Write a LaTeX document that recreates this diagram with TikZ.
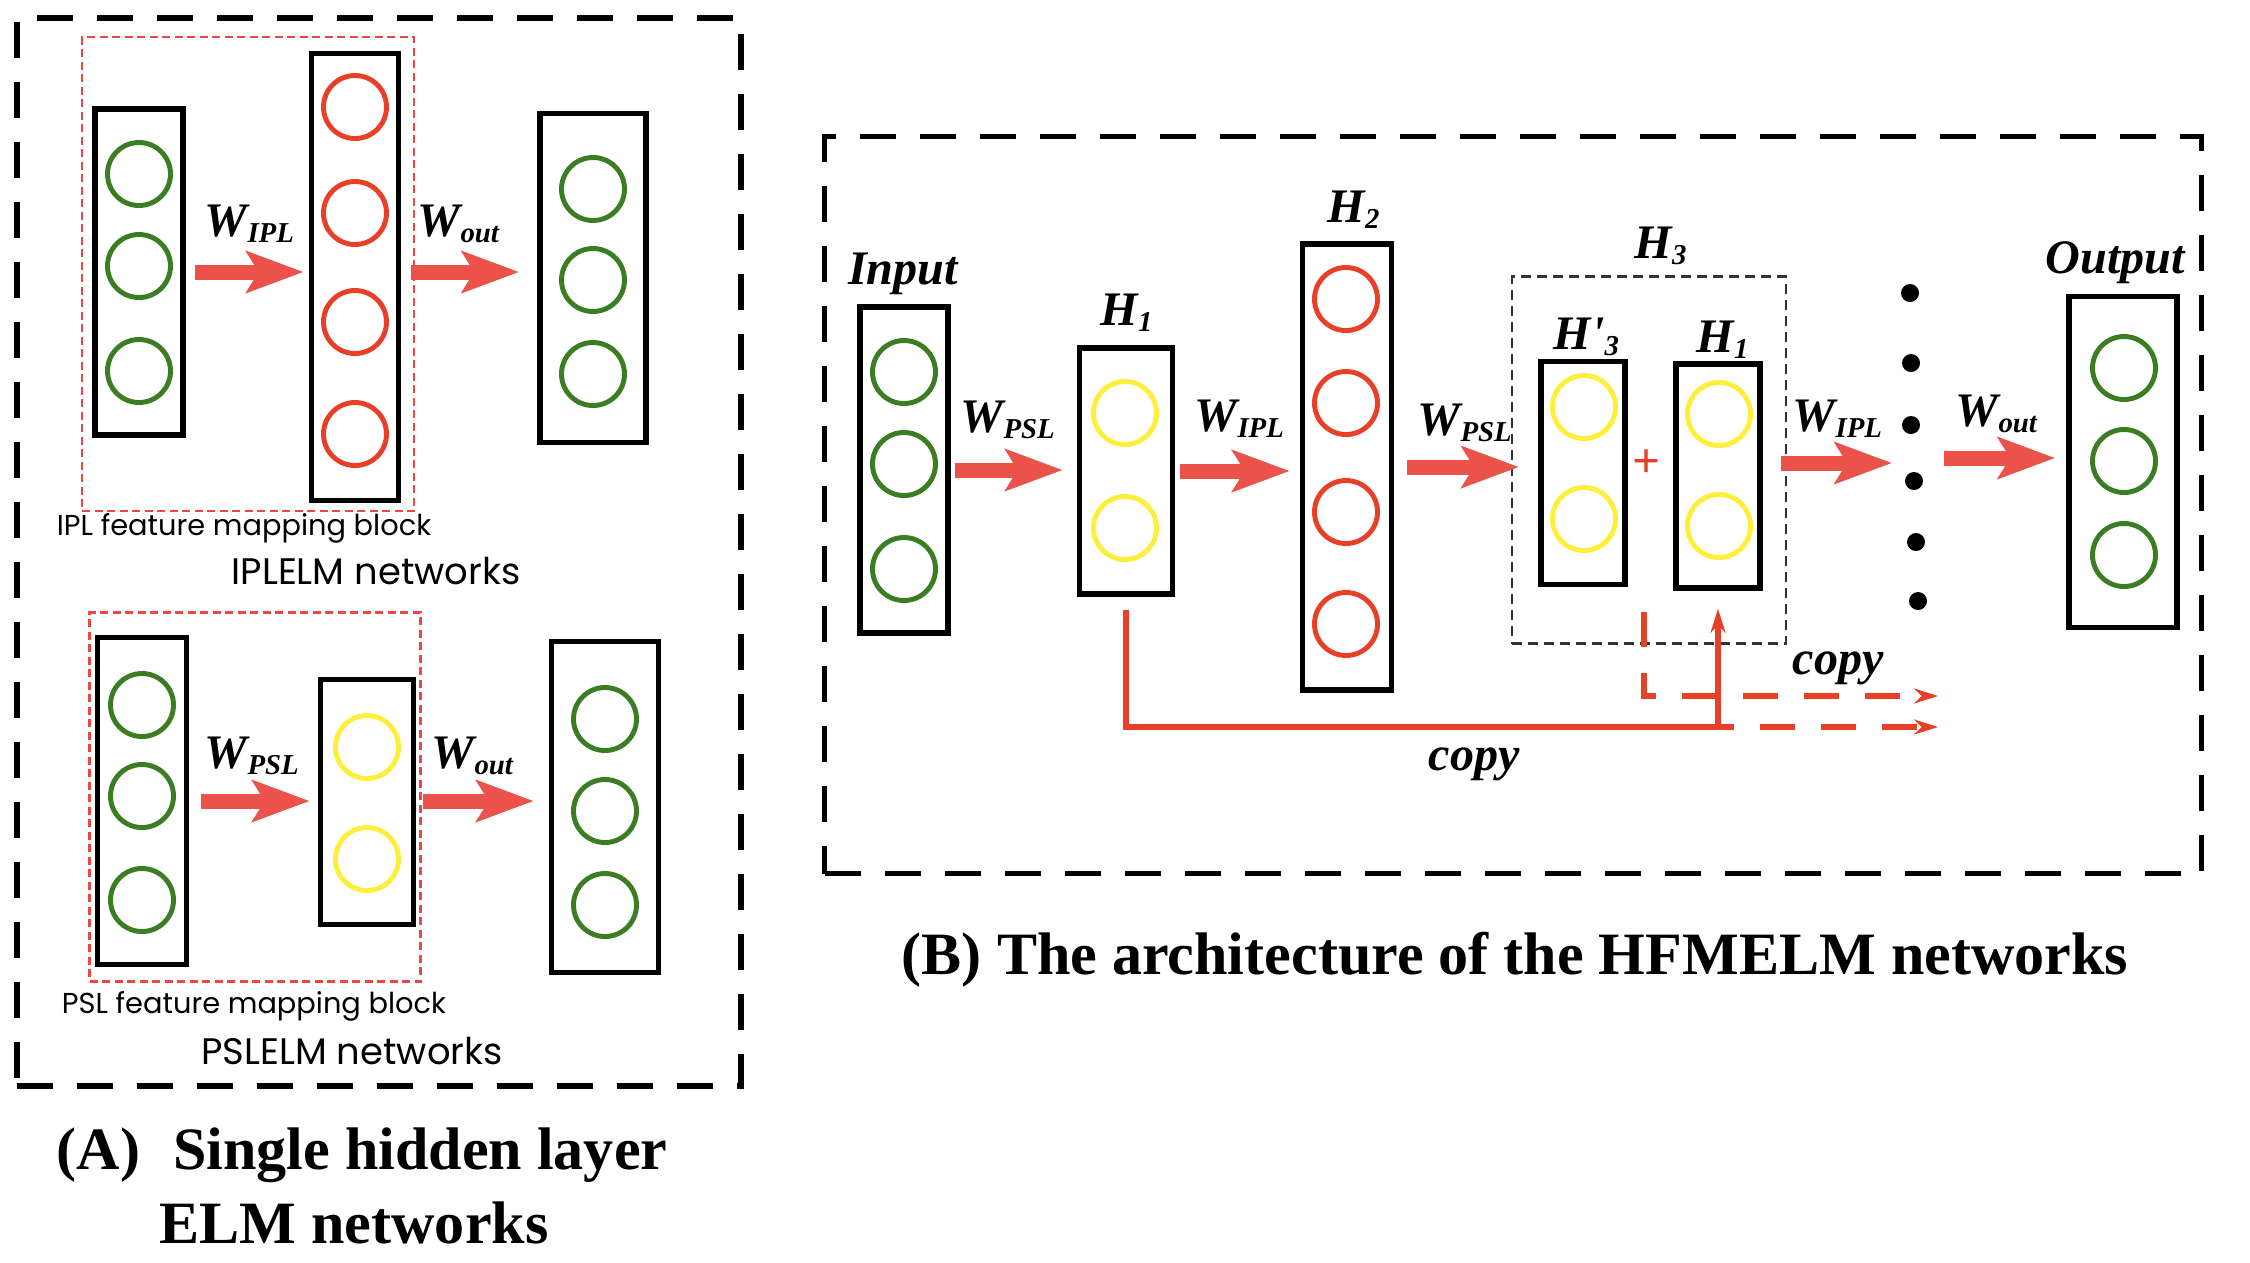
\documentclass[tikz,border=0pt]{standalone}
\usepackage{fontspec}
\setmainfont{Liberation Serif}
\newfontfamily\gothic{Poppins}
\usetikzlibrary{positioning,arrows.meta}
\definecolor{arrred}{RGB}{234,82,74}
\definecolor{cred}{RGB}{232,64,40}
\definecolor{cgreen}{RGB}{58,125,35}
\definecolor{cyel}{RGB}{255,238,60}
\definecolor{boxred}{RGB}{236,70,70}
\newcommand{\lsub}[1]{\raisebox{-1.8pt}{\fontsize{8.2}{9}\selectfont #1}}

\begin{document}
\begin{tikzpicture}[x=0.1mm, y=-0.1mm,
  lay/.style={draw, line width=1.6pt, inner sep=0pt},
  neu/.style={circle, draw, line width=1.4pt, minimum size=6.3mm, inner sep=0pt},
  gn/.style={neu, draw=cgreen}, rn/.style={neu, draw=cred}, yn/.style={neu, draw=cyel},
  lbl/.style={font=\fontsize{13.7}{16}\selectfont\bfseries\itshape, inner sep=0pt, anchor=base west},
  capt/.style={font=\fontsize{17.1}{20}\selectfont\bfseries, inner sep=0pt, anchor=base},
  blk/.style={font=\fontsize{8.2}{9}\selectfont\gothic, inner sep=0pt},
  netw/.style={font=\fontsize{10.5}{12}\selectfont\gothic, inner sep=0pt},
  outbox/.style={draw, line width=1.5pt, dash pattern=on 3.6mm off 2.4mm, inner sep=0pt},
  fmb/.style={draw=boxred, line width=0.6pt, dash pattern=on 0.8mm off 0.45mm, inner sep=0pt},
  grp/.style={draw=black!80, line width=0.6pt, dash pattern=on 1mm off 0.6mm, inner sep=0pt},
  fat/.style={draw=arrred, line width=1.5mm, -{Stealth[length=5.7mm, width=4.1mm, inset=1.2mm]}},
  cp/.style={draw=cred, line width=1.5pt},
  cpa/.style={cp, -{Stealth[length=2.4mm, width=1.5mm]}},
  cpd/.style={cpa, dash pattern=on 3.5mm off 2.6mm},
  bigdot/.style={circle, fill, minimum size=1.8mm, inner sep=0pt}]
\useasboundingbox (0,0) rectangle (2250,1262);

\node[outbox, minimum width=72.4mm, minimum height=106.8mm] (frameA) at (379,552) {};
\node[fmb, minimum width=33.2mm, minimum height=47.4mm] (blkI) at (248,274) {};
\node[fmb, minimum width=33.1mm, minimum height=36.9mm] (blkP) at (255,797) {};

\node[lay, minimum width=8.8mm, minimum height=32.6mm] (aIin) at (139,272) {};
\node[gn] (aIin1) at (139,174) {}; \node[gn] (aIin2) at (139,266) {}; \node[gn] (aIin3) at (139,371) {};
\node[lay, minimum width=8.7mm, minimum height=44.7mm] (aIhid) at (355,277) {};
\node[rn] (aIh1) at (355,107) {}; \node[rn] (aIh2) at (355,213) {}; \node[rn] (aIh3) at (355,322) {}; \node[rn] (aIh4) at (355,434) {};
\node[lay, minimum width=10.6mm, minimum height=32.9mm] (aIout) at (593,278) {};
\node[gn] (aIo1) at (593,189) {}; \node[gn] (aIo2) at (593,280) {}; \node[gn] (aIo3) at (593,374) {};
\draw[fat, shorten <=0.9mm, shorten >=0.5mm] (aIin.east) -- (aIin.east -| aIhid.west);
\draw[fat, shorten <=1mm, shorten >=1.8mm] (aIin.east -| aIhid.east) -- (aIin.east -| aIout.west);
\node[lbl] (aIw1) at (204,236) {W\lsub{IPL}};
\node[lbl] (aIw2) at (417,236) {W\lsub{out}};
\node[blk] (aIblk) at (244,528) {IPL feature mapping block};
\node[netw] (aInet) at (376,571) {IPLELM networks};

\node[lay, minimum width=8.9mm, minimum height=32.7mm] (aPin) at (142,801) {};
\node[gn] (aPin1) at (142,705) {}; \node[gn] (aPin2) at (142,796) {}; \node[gn] (aPin3) at (142,900) {};
\node[lay, minimum width=9.3mm, minimum height=24.5mm] (aPhid) at (367,802) {};
\node[yn] (aPh1) at (367,747) {}; \node[yn] (aPh2) at (367,859) {};
\node[lay, minimum width=10.7mm, minimum height=33.1mm] (aPout) at (605,807) {};
\node[gn] (aPo1) at (605,719) {}; \node[gn] (aPo2) at (605,811) {}; \node[gn] (aPo3) at (605,905) {};
\draw[fat, shorten <=1.2mm, shorten >=0.8mm] (aPin.east) -- (aPin.east -| aPhid.west);
\draw[fat, shorten <=0.7mm, shorten >=1.5mm] (aPin.east -| aPhid.east) -- (aPin.east -| aPout.west);
\node[lbl] (aPw1) at (204,768) {W\lsub{PSL}};
\node[lbl] (aPw2) at (431,768) {W\lsub{out}};
\node[blk] (aPblk) at (254,1006) {PSL feature mapping block};
\node[netw] (aPnet) at (352,1051) {PSLELM networks};

\node[capt] (capA1) at (362,1169) {(A)\hspace{0.3em} Single hidden layer};
\node[capt] (capA2) at (354,1243) {ELM networks};

\node[outbox, minimum width=137.7mm, minimum height=73.7mm] (frameB) at (1513,505) {};
\node[lay, minimum width=8.8mm, minimum height=32.6mm] (bin) at (904,470) {};
\node[gn] (bin1) at (904,372) {}; \node[gn] (bin2) at (904,464) {}; \node[gn] (bin3) at (904,569) {};
\node[lay, minimum width=9.3mm, minimum height=24.6mm] (bh1) at (1126,471) {};
\node[yn] (bh1a) at (1125,413) {}; \node[yn] (bh1b) at (1125,528) {};
\node[lay, minimum width=8.9mm, minimum height=44.6mm] (bh2) at (1347,467) {};
\node[rn] (bh2a) at (1346,299) {}; \node[rn] (bh2b) at (1346,403) {}; \node[rn] (bh2c) at (1346,512) {}; \node[rn] (bh2d) at (1346,624) {};
\node[grp, minimum width=27.4mm, minimum height=36.7mm] (bh3) at (1649,460) {};
\node[lay, minimum width=8.4mm, minimum height=22.3mm] (bh3p) at (1583,473) {};
\node[yn] (bh3a) at (1584,407) {}; \node[yn] (bh3b) at (1584,519) {};
\node[lay, minimum width=8.4mm, minimum height=22.4mm] (bh1c) at (1718,476) {};
\node[yn] (bh1ca) at (1719,414) {}; \node[yn] (bh1cb) at (1719,526) {};
\node[text=cred, font=\fontsize{14}{16}\selectfont\bfseries, inner sep=0pt] (plus) at (1646,464) {+};
\node[bigdot] (d1) at (1910,293) {}; \node[bigdot] (d2) at (1911,363) {}; \node[bigdot] (d3) at (1911,425) {};
\node[bigdot] (d4) at (1914,481) {}; \node[bigdot] (d5) at (1916,542) {}; \node[bigdot] (d6) at (1918,601) {};
\node[lay, minimum width=10.8mm, minimum height=33.1mm] (bout) at (2123,462) {};
\node[gn] (bo1) at (2124,368) {}; \node[gn] (bo2) at (2124,461) {}; \node[gn] (bo3) at (2124,555) {};
\coordinate (dotL) at (1892,463); \coordinate (dotR) at (1944,458);

\draw[fat, shorten <=0.4mm, shorten >=1.4mm] (bin.east) -- (bin.east -| bh1.west);
\draw[fat, shorten <=0.5mm, shorten >=1mm] (bh1.east) -- (bh1.east -| bh2.west);
\draw[fat, shorten <=1.3mm, shorten >=-0.8mm] (bh2.east) -- (bh2.east -| bh3.west);
\draw[fat, shorten <=1.8mm] (bh1c.east |- dotL) -- (dotL);
\draw[fat, shorten >=1.1mm] (dotR) -- (dotR -| bout.west);

\node[lbl, anchor=base] (lin) at (903,284) {Input};
\node[lbl] (lout) at (2045,273) {Output};
\node[lbl] (lh1) at (1100,325) {H\lsub{1}};
\node[lbl] (lh2) at (1327,222) {H\lsub{2}};
\node[lbl] (lh3) at (1634,258) {H\lsub{3}};
\node[lbl] (lh3p) at (1553,349) {H\textquotesingle\lsub{3}};
\node[lbl] (lh1c) at (1696,352) {H\lsub{1}};
\node[lbl] (bw1) at (960,432) {W\lsub{PSL}};
\node[lbl] (bw2) at (1194,431) {W\lsub{IPL}};
\node[lbl] (bw3) at (1417,435) {W\lsub{PSL}};
\node[lbl] (bw4) at (1792,431) {W\lsub{IPL}};
\node[lbl] (bw5) at (1955,426) {W\lsub{out}};

\coordinate (cpJ) at (1734,727); \coordinate (cpU) at (1644,612);
\coordinate (cpE1) at (1938,696); \coordinate (cpE2) at (1938,727);
\draw[cp, shorten <=1.3mm] (bh1.south) |- (cpJ);
\draw[cpa, shorten >=1.8mm] (bh1c.south |- cpJ) -- (bh1c.south);
\draw[cpd, dash phase=3.5mm] (cpJ) -- (cpE2);
\draw[cpd] (cpU) |- (cpE1);
\node[lbl] (lcp1) at (1792,674) {copy};
\node[lbl] (lcp2) at (1428,770) {copy};

\node[capt] (capB) at (1515,974) {(B) The architecture of the HFMELM networks};
\end{tikzpicture}
\end{document}
